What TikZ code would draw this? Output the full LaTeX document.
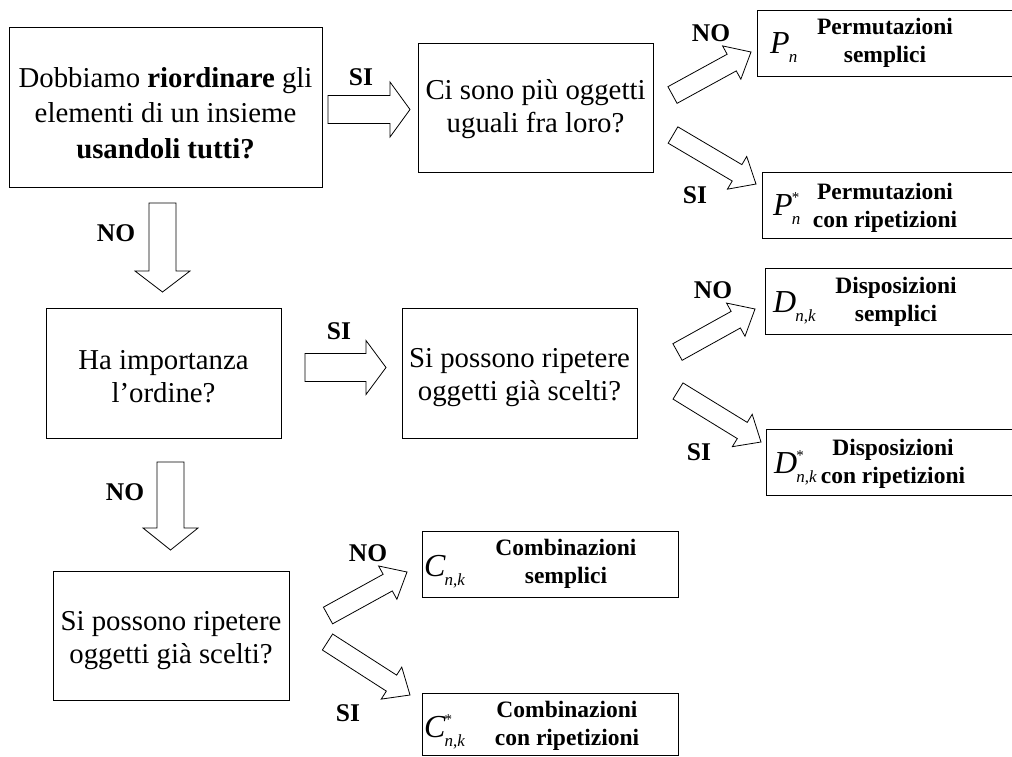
\documentclass[tikz,border=0pt]{standalone}
\usepackage{fontspec}
\setmainfont{Liberation Serif}
\usetikzlibrary{calc}
% fat block arrow: #1 tail coord, #2 tip coord, #3 shaft half-width, #4 head half-width, #5 head length
\newcommand{\bigarrow}[5]{%
  \coordinate (hb) at ($(#2)!#5!(#1)$);
  \draw[fat] ($(#1)!#3!90:(#2)$) -- ($(hb)!#3!90:(#2)$) -- ($(hb)!#4!90:(#2)$) -- (#2)
    -- ($(hb)!#4!-90:(#2)$) -- ($(hb)!#3!-90:(#2)$) -- ($(#1)!#3!-90:(#2)$) -- cycle;}
% symbol: letter, subscript, superscript
\newcommand{\symb}[3]{%
  {\fontsize{32}{32}\selectfont\itshape #1}\kern-1pt%
  \makebox[0pt][l]{\raisebox{13pt}{\fontsize{15}{15}\selectfont #3}}%
  \raisebox{-9pt}{\fontsize{17}{17}\selectfont #2}}
\begin{document}
\begin{tikzpicture}[x=1pt,y=-1pt,
  qbox/.style={draw, line width=1pt, inner sep=0pt},
  qtext/.style={align=center, inner sep=0pt, font=\fontsize{28.8}{33}\selectfont},
  rbox/.style={draw, line width=1pt, inner sep=0pt, minimum height=66pt},
  rtext/.style={align=center, font=\bfseries\fontsize{23.5}{27.5}\selectfont, inner sep=0pt},
  sym/.style={anchor=base west, inner sep=0pt},
  lab/.style={font=\bfseries\fontsize{25.5}{26}\selectfont, inner sep=0pt},
  fat/.style={draw, line width=0.8pt, fill=white, line join=miter}]
\useasboundingbox (0,0) rectangle (1012,756);
\clip (0,0) rectangle (1012,756);

% question boxes
\node[qbox, minimum width=313pt, minimum height=160pt] (A) at (165.5,107) {};
\node[qbox, minimum width=235pt, minimum height=129pt] (B) at (535.5,107.5) {};
\node[qbox, minimum width=235pt, minimum height=130pt] (C) at (163.5,373) {};
\node[qbox, minimum width=235pt, minimum height=130pt] (D) at (519.5,373) {};
\node[qbox, minimum width=236pt, minimum height=129pt] (E) at (171,635.5) {};

\node[qtext, font=\fontsize{28.8}{35.5}\selectfont] (At) at (165.5,113)
  {Dobbiamo \textbf{riordinare} gli\\ elementi di un insieme\\ \textbf{usandoli tutti?}};
\node[qtext] (Bt) at (535.5,109) {Ci sono più oggetti\\ uguali fra loro?};
\node[qtext] (Ct) at (163.5,377) {Ha importanza\\ l’ordine?};
\node[qtext] (Dt) at (519.5,378) {Si possono ripetere\\ oggetti già scelti?};
\node[qtext] (Et) at (171,641) {Si possono ripetere\\ oggetti già scelti?};

% result boxes
\node[rbox, minimum width=263pt] (Pn) at (888.5,43) {};
\node[rbox, minimum width=258pt] (Pns) at (891,205) {};
\node[rbox, minimum width=255pt] (Dn) at (892.5,301) {};
\node[rbox, minimum width=254pt] (Dns) at (893,462) {};
\node[rbox, minimum width=256pt] (Cn) at (550,564) {};
\node[rbox, minimum width=256pt, minimum height=62pt] (Cns) at (550,724) {};

\node[sym] (Pnsym) at (770,53) {\symb{P}{\itshape n}{}};
\node[sym] (Pnssym) at (773,215) {\symb{P}{\itshape n}{*}};
\node[sym] (Dnsym) at (773,312) {\symb{D}{\itshape n\upshape,\itshape k}{}};
\node[sym] (Dnssym) at (774,473) {\symb{D}{\itshape n\upshape,\itshape k}{*}};
\node[sym] (Cnsym) at (424,576) {\symb{C}{\itshape n\upshape,\itshape k}{}};
\node[sym] (Cnssym) at (424,737) {\symb{C}{\itshape n\upshape,\itshape k}{*}};

\node[rtext] (Pnt) at (885,43) {Permutazioni\\ semplici};
\node[rtext] (Pnst) at (885,208) {Permutazioni\\ con ripetizioni};
\node[rtext] (Dnt) at (896,302) {Disposizioni\\ semplici};
\node[rtext] (Dnst) at (893,464) {Disposizioni\\ con ripetizioni};
\node[rtext] (Cnt) at (566,564) {Combinazioni\\ semplici};
\node[rtext] (Cnst) at (567,726) {Combinazioni\\ con ripetizioni};

% arrow end points
\coordinate (a1s) at (328,109.5);   \coordinate (a1e) at (410,109.5);
\coordinate (a2s) at (162.5,203);   \coordinate (a2e) at (162.5,292);
\coordinate (a3s) at (305,367.5);   \coordinate (a3e) at (386,367.5);
\coordinate (a4s) at (170.5,462);   \coordinate (a4e) at (170.5,550);
\coordinate (b1s) at (672.5,95);    \coordinate (b1e) at (751,52);
\coordinate (b2s) at (673,135);     \coordinate (b2e) at (756,184);
\coordinate (d1s) at (677.5,352);   \coordinate (d1e) at (755,309);
\coordinate (d2s) at (678,391);     \coordinate (d2e) at (761,442);
\coordinate (e1s) at (328,615.5);   \coordinate (e1e) at (407,572);
\coordinate (e2s) at (327.5,642);   \coordinate (e2e) at (410,695);

\bigarrow{a1s}{a1e}{14pt}{27.5pt}{20pt}
\bigarrow{a2s}{a2e}{13.5pt}{27.5pt}{21pt}
\bigarrow{a3s}{a3e}{14pt}{27pt}{20pt}
\bigarrow{a4s}{a4e}{13.5pt}{27.5pt}{22pt}
\bigarrow{b1s}{b1e}{9.5pt}{19pt}{22pt}
\bigarrow{b2s}{b2e}{9.5pt}{19pt}{22pt}
\bigarrow{d1s}{d1e}{9.5pt}{19pt}{22pt}
\bigarrow{d2s}{d2e}{9.5pt}{19pt}{22pt}
\bigarrow{e1s}{e1e}{9.5pt}{19pt}{22pt}
\bigarrow{e2s}{e2e}{9.5pt}{19pt}{22pt}

% labels
\node[lab] (l1) at (361,77) {SI};
\node[lab] (l2) at (711,33) {NO};
\node[lab] (l3) at (695,195) {SI};
\node[lab] (l4) at (116,233) {NO};
\node[lab] (l5) at (339,331) {SI};
\node[lab] (l6) at (713,290) {NO};
\node[lab] (l7) at (699,452) {SI};
\node[lab] (l8) at (125,492) {NO};
\node[lab] (l9) at (368,553) {NO};
\node[lab] (l10) at (348,713) {SI};
\end{tikzpicture}
\end{document}
